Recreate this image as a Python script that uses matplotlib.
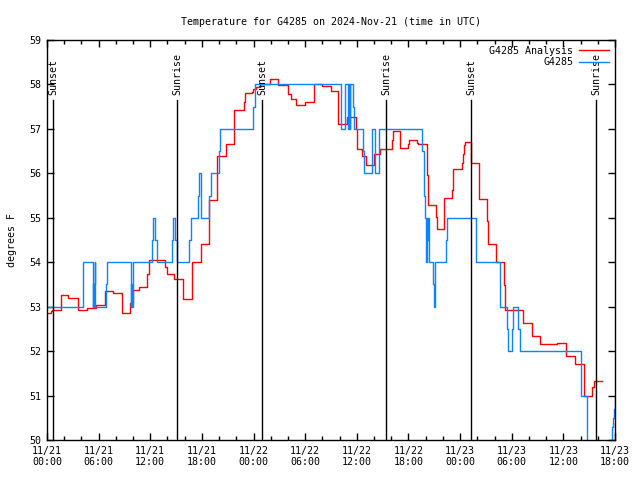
import matplotlib
matplotlib.use('Agg')
import matplotlib.pyplot as plt
import matplotlib.transforms as mtransforms

# hours since 11/21 00:00 UTC, step values (deg F)
analysis_t = [0.0, 0.46, 0.62, 1.63, 2.47, 3.64, 4.61, 5.66, 6.74, 7.63, 8.68, 9.64, 9.96,
              10.69, 11.65, 11.82, 13.71, 13.89, 14.76, 15.77, 16.81, 17.86, 18.86, 19.79,
              20.8, 21.76, 22.89, 23.01, 23.86, 23.97, 24.29, 24.75, 25.91, 26.88, 27.97,
              28.32, 28.93, 29.98, 30.99, 31.99, 32.97, 33.85, 34.89, 35.87, 35.99, 36.64,
              37.07, 38.0, 38.69, 40.05, 40.17, 41.05, 41.98, 42.1, 43.03, 43.14, 44.12,
              44.24, 45.17, 45.28, 46.17, 47.03, 47.14, 48.19, 48.31, 48.45, 48.57, 49.23,
              50.2, 50.23, 51.16, 51.28, 52.17, 53.1, 53.22, 55.31, 56.32, 57.29, 59.26,
              60.31, 61.35, 62.4, 63.36, 63.56, 64.45]
analysis_v = [52.85, 52.9, 52.92, 53.26, 53.2, 52.92, 52.96, 53.03, 53.35, 53.3, 52.85, 53.09, 53.37,
              53.44, 53.73, 54.04, 53.9, 53.73, 53.62, 53.17, 54.0, 54.41, 55.4, 56.4,
              56.65, 57.42, 57.6, 57.8, 57.84, 57.89, 57.95, 58.0, 58.12, 57.99, 57.78,
              57.67, 57.54, 57.61, 58.0, 57.96, 57.85, 57.11, 57.27, 57.0, 56.54, 56.39,
              56.19, 56.43, 56.55, 56.75, 56.95, 56.56, 56.67, 56.75, 56.68, 56.65, 55.96,
              55.29, 55.02, 54.75, 55.45, 55.62, 56.1, 56.23, 56.43, 56.64, 56.7, 56.23,
              55.83, 55.42, 54.93, 54.42, 54.01, 53.49, 52.92, 52.64, 52.34, 52.16, 52.18,
              51.89, 51.71, 51.0, 51.2, 51.33, 51.33]

station_t = [0.0, 4.22, 5.3, 5.36, 5.42, 5.5, 5.54, 5.6, 6.86, 6.94, 9.73, 9.8, 9.88, 9.96,
             10.03, 12.24, 12.35, 12.58, 12.75, 14.56, 14.68, 14.87, 15.05, 16.53, 16.7,
             17.58, 17.66, 17.86, 18.86, 19.02, 19.99, 20.14, 23.97, 24.13, 34.22, 34.57,
             34.94, 35.06, 35.15, 35.24, 35.56, 35.71, 36.68, 36.8, 37.73, 38.11, 38.54,
             43.57, 43.84, 43.92, 44.07, 44.13, 44.22, 44.27, 44.42, 44.89, 44.97, 45.05,
             45.12, 46.36, 46.51, 49.81, 52.64, 53.49, 53.6, 54.07, 54.18, 54.76, 54.93,
             62.02, 62.09, 62.78, 65.46, 65.6, 65.74, 65.86, 65.97, 66.0]
station_v = [53.0, 54.0, 53.0, 53.5, 53.0, 53.5, 54.0, 53.0, 53.5, 54.0, 53.0, 53.5, 53.0, 53.5,
             54.0, 54.5, 55.0, 54.5, 54.0, 54.5, 55.0, 54.5, 54.0, 54.5, 55.0,
             55.5, 56.0, 55.0, 55.5, 56.0, 56.5, 57.0, 57.5, 58.0, 57.0, 58.0,
             57.0, 58.0, 57.0, 58.0, 57.5, 57.0, 56.5, 56.0, 57.0, 56.0, 57.0,
             56.5, 55.5, 55.0, 54.0, 55.0, 54.5, 55.0, 54.0, 53.5, 53.0, 53.5,
             54.0, 54.5, 55.0, 54.0, 53.0, 52.5, 52.0, 52.5, 53.0, 52.5, 52.0,
             51.5, 51.0, 49.0, 50.0, 50.3, 50.5, 50.7, 50.9, 51.0]

sun_events = ['Sunset', 'Sunrise', 'Sunset', 'Sunrise', 'Sunset', 'Sunrise']
sun_hours = [0.75, 15.14, 25.02, 39.39, 49.3, 63.79]

tick_hours = [0, 6, 12, 18, 24, 30, 36, 42, 48, 54, 60, 66]
tick_labels = ['11/21\n00:00', '11/21\n06:00', '11/21\n12:00', '11/21\n18:00',
               '11/22\n00:00', '11/22\n06:00', '11/22\n12:00', '11/22\n18:00',
               '11/23\n00:00', '11/23\n06:00', '11/23\n12:00', '11/23\n18:00']

plt.rcParams['font.family'] = ['DejaVu Sans Mono']
plt.rcParams['font.size'] = 7.2

fig = plt.figure(figsize=(6.4, 4.8), dpi=100)
ax = fig.add_axes([47 / 640, 40 / 480, 568 / 640, 400 / 480])

ax.step(analysis_t, analysis_v, where='post', color='#ff0000', lw=1.0, label='G4285 Analysis')
ax.step(station_t, station_v, where='post', color='#0a84ff', lw=1.0, label='G4285')

trans = mtransforms.blended_transform_factory(ax.transData, ax.transAxes)
for name, h in zip(sun_events, sun_hours):
    ax.plot([h, h], [0, 0.85], color='black', lw=1.0, transform=trans)
    ax.text(h, 0.862, name, rotation=90, ha='center', va='bottom', transform=trans)

ax.set_xlim(0, 66)
ax.set_ylim(50, 59)
ax.set_xticks(tick_hours)
ax.set_xticklabels(tick_labels)
ax.set_xticks(range(0, 67, 2), minor=True)
ax.set_yticks(range(50, 60))
ax.tick_params(direction='in', top=True, right=True, length=5, width=1, pad=4)
ax.tick_params(which='minor', direction='in', top=True, bottom=True, length=3, width=1)
for s in ax.spines.values():
    s.set_linewidth(1.0)

ax.set_ylabel('degrees F', labelpad=9)
ax.set_title('Temperature for G4285 on 2024-Nov-21 (time in UTC)', fontsize=7.2, pad=11)
ax.legend(loc='upper right', bbox_to_anchor=(1.0, 1.0), frameon=False, markerfirst=False,
          handlelength=3.0, handletextpad=0.6, labelspacing=0.15, borderaxespad=0.2)

fig.savefig('out.png', dpi=100)
